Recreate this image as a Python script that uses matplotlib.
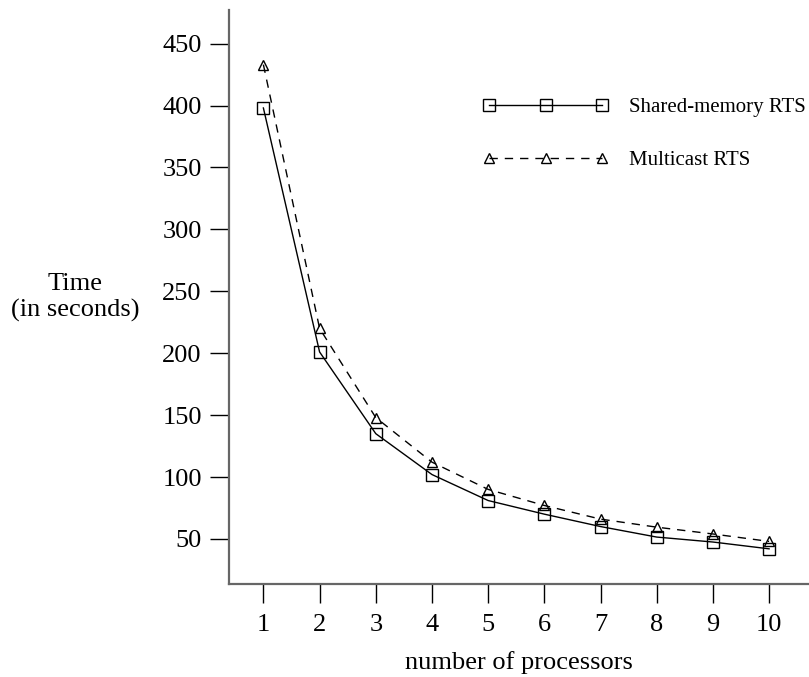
import matplotlib.pyplot as plt

plt.rcParams['font.family'] = ['Liberation Serif', 'DejaVu Serif']

# 프로세서 수별 실행 시간 (초)
processors = [1, 2, 3, 4, 5, 6, 7, 8, 9, 10]
shared_memory = [398, 201, 135, 102, 81, 70, 60, 51.5, 47.5, 42]
multicast = [433, 220, 148, 112, 90, 77, 66, 59.5, 54, 48]

fig = plt.figure(figsize=(8.09, 6.77), dpi=100)
ax = fig.add_axes([0.283, 0.137, 0.717, 0.848])

ax.plot(processors, shared_memory, color='black', linewidth=1.0, linestyle='-',
        marker='s', markersize=8.8, markerfacecolor='none', markeredgewidth=1.0,
        label='Shared-memory RTS')
ax.plot(processors, multicast, color='black', linewidth=1.0, linestyle=(0, (6, 5)),
        marker='^', markersize=7.8, markerfacecolor='none', markeredgewidth=1.0,
        label='Multicast RTS')

ax.set_xlim(0.387, 10.71)
ax.set_ylim(13.4, 477)
ax.set_xticks(processors)
ax.set_yticks([50, 100, 150, 200, 250, 300, 350, 400, 450])

for side in ['top', 'right']:
    ax.spines[side].set_visible(False)
for side in ['left', 'bottom']:
    ax.spines[side].set_color('#666666')
    ax.spines[side].set_linewidth(1.6)

ax.tick_params(axis='both', direction='out', length=13.5, width=1.0,
               labelsize=19, colors='black')
ax.tick_params(axis='y', pad=6)
ax.tick_params(axis='x', pad=8)

ax.set_xlabel('number of processors', fontsize=19, labelpad=11)
ax.set_ylabel('Time\n(in seconds)', fontsize=19, rotation=0, ha='center', va='center')
ax.yaxis.set_label_coords(-0.265, 0.50)

ax.legend(loc='upper left', bbox_to_anchor=(0.438, 0.848), numpoints=3,
          handlelength=6.0, handletextpad=1.0, labelspacing=1.6,
          borderpad=0, borderaxespad=0, frameon=False, fontsize=15)

plt.savefig('out.png', dpi=100)
